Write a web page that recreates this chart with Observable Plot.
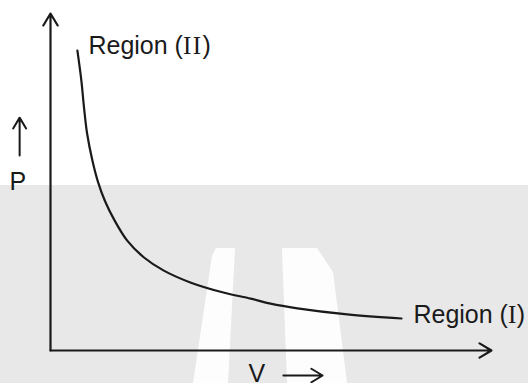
<!DOCTYPE html>
<html>
<head>
<meta charset="utf-8">
<script src="https://cdn.jsdelivr.net/npm/d3@7"></script>
<script src="https://cdn.jsdelivr.net/npm/@observablehq/plot@0.6"></script>
<style>
  html, body { margin: 0; padding: 0; background: #fff; }
  #wrap { position: relative; width: 528px; height: 383px; overflow: hidden;
    background: linear-gradient(to bottom, #ffffff 0px, #ffffff 185px, #e8e8e8 185px, #e8e8e8 383px); }
  .wm { position: absolute; left: 0; top: 0; width: 528px; height: 383px; background: #fdfdfd; }
  #wm1 { clip-path: polygon(216px 248px, 235px 248px, 228px 383px, 193px 383px, 212px 256px); }
  #wm2 { clip-path: polygon(282px 248px, 317px 248px, 333px 272px, 347px 383px, 287px 383px); }
  #chart { position: absolute; left: 0; top: 0; }
</style>
</head>
<body>
<div id="wrap">
  <div class="wm" id="wm1"></div>
  <div class="wm" id="wm2"></div>
  <div id="chart"></div>
</div>
<script>
// P–V curve
const curveV = [0.61, 0.70, 0.76, 0.83, 0.95, 1.08, 1.24, 1.44, 1.74, 2.12, 2.57, 3.17, 3.92, 4.54, 4.99, 5.60, 6.73, 7.96];
const curveP = [8.90, 8.01, 7.21, 6.44, 5.64, 4.99, 4.42, 3.89, 3.26, 2.76, 2.37, 2.02, 1.72, 1.54, 1.39, 1.25, 1.07, 0.95];

// Axes (drawn as arrows)
const axisV1 = [0, 0];
const axisP1 = [0, 0];
const axisV2 = [10, 0];
const axisP2 = [0, 10];

// Axis-name arrows
const dirV1 = [-0.70, 5.28];
const dirP1 = [5.79, -0.742];
const dirV2 = [-0.70, 6.17];
const dirP2 = [6.91, -0.742];

// Text labels
const labelText = ["Region (II)", "Region (I)"];
const labelV = [0.86, 8.23];
const labelP = [9.05, 1.04];

const axisNames = ["P", "V"];
const axisNameV = [-0.74, 4.68];
const axisNameP = [4.99, -0.70];

const curve = curveV.map((v, i) => ({V: v, P: curveP[i]}));
const axes = axisV1.map((v, i) => ({x1: v, y1: axisP1[i], x2: axisV2[i], y2: axisP2[i]}));
const dirs = dirV1.map((v, i) => ({x1: v, y1: dirP1[i], x2: dirV2[i], y2: dirP2[i]}));
const labels = labelText.map((t, i) => ({t, V: labelV[i], P: labelP[i]}));
const names = axisNames.map((t, i) => ({t, V: axisNameV[i], P: axisNameP[i]}));

const ink = "#1a1a1a";
const font = "Liberation Sans, Arial, sans-serif";

const svg = Plot.plot({
  width: 528,
  height: 383,
  marginLeft: 50,
  marginRight: 37,
  marginTop: 13,
  marginBottom: 33,
  x: {domain: [0, 10], axis: null},
  y: {domain: [0, 10], axis: null},
  style: {background: "transparent", overflow: "visible"},
  marks: [
    Plot.arrow(axes, {x1: "x1", y1: "y1", x2: "x2", y2: "y2", stroke: ink, strokeWidth: 2.2, headLength: 9.5, headAngle: 62}),
    Plot.arrow(dirs, {x1: "x1", y1: "y1", x2: "x2", y2: "y2", stroke: ink, strokeWidth: 2, headLength: 10, headAngle: 62}),
    Plot.line(curve, {x: "V", y: "P", curve: "catmull-rom", stroke: ink, strokeWidth: 2.2}),
    Plot.text(labels, {x: "V", y: "P", text: "t", textAnchor: "start", fontSize: 25, fontFamily: font, fill: ink}),
    Plot.text(names, {x: "V", y: "P", text: "t", fontSize: 25, fontFamily: font, fill: ink})
  ]
});

// Roman numerals in a serif face, as in the original
svg.querySelectorAll("text").forEach(el => {
  const m = el.textContent.match(/^(.*\()(I+)(\))$/);
  if (m) {
    el.textContent = "";
    const ns = "http://www.w3.org/2000/svg";
    const a = document.createElementNS(ns, "tspan"); a.textContent = m[1];
    const b = document.createElementNS(ns, "tspan"); b.textContent = m[2];
    b.setAttribute("font-family", "Liberation Serif, Times New Roman, serif");
    b.setAttribute("letter-spacing", m[2].length > 1 ? "1.5" : "0.5");
    const c = document.createElementNS(ns, "tspan"); c.textContent = m[3];
    el.append(a, b, c);
  }
});

document.getElementById("chart").append(svg);
</script>
</body>
</html>
